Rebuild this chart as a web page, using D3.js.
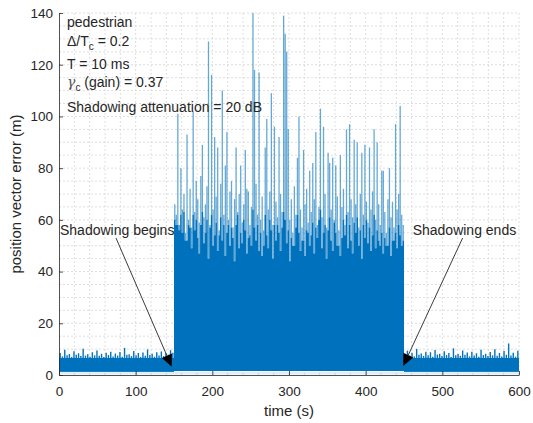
<!DOCTYPE html>
<html lang="en">
<head>
<meta charset="UTF-8" />
<title>Position vector error</title>
<script src="https://d3js.org/d3.v7.min.js"></script>
<style>
  html, body { margin: 0; padding: 0; background: #fff; }
  svg { display: block; font-family: "Liberation Sans", Arial, Helvetica, sans-serif; }
  .axis text { font-size: 13.5px; fill: #262626; }
  .axis path, .axis line { stroke: #262626; stroke-width: 0.8; }
  .grid line { stroke: #d6d6d6; stroke-width: 0.8; stroke-dasharray: 2,2; }
</style>
</head>
<body>
<svg id="chart" width="533" height="423"></svg>
<script>
// ticks
const xTicks = [0, 100, 200, 300, 400, 500, 600];
const yTicks = [0, 20, 40, 60, 80, 100, 120, 140];

// outside shadowing: solid part of the noise band (m)
const baseLevel = 6.6;
// before shadowing: peak of the noise band, one value per 3 s (t = 0..147)
const preStep = 3;
const preShadow = [8.5, 7.2, 9.8, 7.6, 8.1, 7.0, 9.2, 7.8, 8.4, 7.3, 10.2, 7.5, 8.0, 7.1, 8.8, 7.6, 9.5, 7.4, 8.2, 7.0,
  8.6, 7.7, 9.0, 7.2, 8.3, 7.5, 8.9, 7.1, 10.5, 7.8, 8.0, 7.3, 9.3, 7.6, 8.5, 7.0, 8.7, 7.4, 9.9, 7.7,
  8.2, 7.1, 8.8, 7.5, 9.1, 7.3, 8.4, 7.8, 9.6, 8.6];

// after shadowing: one value per 3 s (t = 450..597)
const postShadow = [8.0, 9.4, 7.5, 8.6, 7.2, 10.1, 7.8, 8.3, 7.4, 9.0, 7.6, 8.8, 7.1, 9.7, 7.9, 8.2, 7.3, 9.2, 7.7, 8.5,
  7.0, 10.3, 7.6, 8.1, 7.4, 9.5, 7.8, 8.7, 7.2, 9.0, 7.5, 8.4, 7.1, 9.8, 7.7, 8.2, 7.3, 8.9, 7.6, 10.0,
  7.4, 8.5, 7.2, 9.3, 7.8, 12.2, 7.5, 8.6, 7.1, 9.4];

// during shadowing: peak error in each 2 s bin (t = 150..448)
const shadowStep = 2;
const shadowPeak = [
  66, 62, 101, 58, 80, 64, 70, 55, 93, 60,
  72, 57, 102, 63, 75, 68, 59, 77, 89, 61,
  66, 73, 129, 58, 116, 64, 92, 69, 88, 56,
  74, 110, 62, 81, 94, 60, 71, 75, 57, 68,
  88, 63, 70, 81, 59, 66, 87, 72, 71, 58,
  65, 140, 118, 74, 62, 117, 60, 69, 56, 88,
  99, 64, 71, 109, 58, 96, 67, 61, 92, 70,
  63, 139, 132, 125, 95, 60, 68, 55, 73, 62,
  84, 100, 64, 57, 87, 66, 72, 59, 79, 63,
  82, 68, 94, 58, 65, 103, 61, 96, 70, 57,
  86, 82, 64, 84, 60, 81, 69, 56, 85, 65,
  72, 58, 95, 63, 97, 68, 61, 91, 66, 90,
  57, 70, 86, 62, 89, 67, 59, 88, 64, 71,
  95, 60, 90, 66, 58, 79, 79, 63, 55, 68,
  80, 61, 67, 57, 97, 64, 70, 104, 62, 58];

// during shadowing: top of the dense core in each 2 s bin (t = 150..448)
const shadowCore = [
  60, 58, 58, 56, 62, 55, 63, 52, 52, 58,
  57, 49, 62, 56, 60, 53, 47, 58, 63, 51,
  55, 60, 45, 57, 62, 50, 54, 59, 48, 54,
  61, 52, 58, 46, 55, 58, 50, 57, 53, 44,
  58, 62, 49, 55, 51, 60, 56, 47, 53, 54,
  50, 64, 57, 52, 58, 48, 55, 46, 50, 62,
  54, 49, 60, 56, 45, 58, 52, 58, 55, 48,
  57, 63, 60, 51, 56, 44, 53, 50, 50, 57,
  62, 55, 48, 52, 52, 46, 56, 55, 50, 54,
  59, 47, 57, 53, 60, 64, 49, 55, 58, 45,
  56, 61, 52, 48, 59, 55, 50, 50, 46, 53,
  60, 54, 62, 49, 58, 52, 47, 59, 55, 61,
  50, 56, 45, 58, 53, 60, 51, 57, 48, 54,
  62, 49, 56, 52, 50, 55, 47, 53, 50, 50,
  57, 46, 52, 52, 55, 49, 58, 54, 50, 52];

const shadowStart = 150, shadowEnd = 450;

const W = 533, H = 423;
const margin = { top: 13, right: 14, bottom: 48, left: 59 };
const w = W - margin.left - margin.right;
const h = H - margin.top - margin.bottom;
const blue = "#0072bd";

const svg = d3.select("#chart");
svg.append("rect").attr("width", W).attr("height", H).attr("fill", "#fff");
const g = svg.append("g").attr("transform", `translate(${margin.left},${margin.top})`);

const x = d3.scaleLinear().domain([0, 600]).range([0, w]);
const y = d3.scaleLinear().domain([0, 140]).range([h, 0]);

// minor grid (every 20 s and every 5 m)
const gx = d3.range(20, 601, 20);
const gy = d3.range(5, 141, 5);
const grid = g.append("g").attr("class", "grid");
grid.selectAll(".gx").data(gx).join("line").attr("class", "gx")
  .attr("x1", d => x(d)).attr("x2", d => x(d)).attr("y1", 0).attr("y2", h);
grid.selectAll(".gy").data(gy).join("line").attr("class", "gy")
  .attr("x1", 0).attr("x2", w).attr("y1", d => y(d)).attr("y2", d => y(d));

g.append("clipPath").attr("id", "clip")
  .append("rect").attr("width", w).attr("height", h);
const plot = g.append("g").attr("clip-path", "url(#clip)");

// faint specks near zero
plot.append("rect")
  .attr("x", x(0)).attr("width", x(600) - x(0))
  .attr("y", y(1.3)).attr("height", y(0.2) - y(1.3))
  .attr("fill", blue).attr("opacity", 0.12);

// noise band outside shadowing
[[0, shadowStart], [shadowEnd, 600]].forEach(([a, b]) => {
  plot.append("rect")
    .attr("x", x(a)).attr("width", x(b) - x(a))
    .attr("y", y(baseLevel)).attr("height", y(1.2) - y(baseLevel))
    .attr("fill", blue);
});
const base = preShadow.map((v, i) => ({ t: i * preStep, v }))
  .concat(postShadow.map((v, i) => ({ t: shadowEnd + i * preStep, v })));
plot.selectAll(".base").data(base).join("line").attr("class", "base")
  .attr("x1", d => x(d.t + preStep / 2)).attr("x2", d => x(d.t + preStep / 2))
  .attr("y1", y(baseLevel)).attr("y2", d => y(d.v))
  .attr("stroke", blue).attr("stroke-width", 1.4);

// dense core during shadowing (stepped area, one step per bin)
const core = shadowCore.map((v, i) => ({ t: shadowStart + i * shadowStep, v }));
core.push({ t: shadowEnd, v: shadowCore[shadowCore.length - 1] });
plot.append("path").datum(core)
  .attr("fill", blue)
  .attr("d", d3.area().x(d => x(d.t)).y0(y(1.5)).y1(d => y(d.v)).curve(d3.curveStepAfter));

// spikes during shadowing, from the core up to the peak
const peaks = shadowPeak.map((v, i) => ({ t: shadowStart + i * shadowStep + shadowStep / 2, v, c: shadowCore[i] }));
plot.selectAll(".peak").data(peaks).join("line").attr("class", "peak")
  .attr("x1", d => x(d.t)).attr("x2", d => x(d.t))
  .attr("y1", d => y(d.c)).attr("y2", d => y(d.v))
  .attr("stroke", blue).attr("stroke-width", 1.3).attr("opacity", 0.6);

// axes
const xAxis = d3.axisBottom(x).tickValues(xTicks).tickSizeInner(-4).tickSizeOuter(0).tickPadding(11);
const yAxis = d3.axisLeft(y).tickValues(yTicks).tickSizeInner(-4).tickSizeOuter(0).tickPadding(6);
g.append("g").attr("class", "axis").attr("transform", `translate(0,${h})`).call(xAxis);
g.append("g").attr("class", "axis").call(yAxis);

// axis labels
g.append("text").attr("x", w / 2).attr("y", h + 41)
  .attr("text-anchor", "middle").attr("font-size", 15).attr("fill", "#262626")
  .text("time (s)");
g.append("text").attr("transform", `translate(${21 - margin.left},${h / 2}) rotate(-90)`)
  .attr("text-anchor", "middle").attr("font-size", 15).attr("fill", "#262626")
  .text("position vector error (m)");

// parameter box
const info = g.append("g").attr("font-size", 14).attr("fill", "#262626");
const lx = 8;
info.append("text").attr("x", lx).attr("y", 14.3).text("pedestrian");
const t2 = info.append("text").attr("x", lx).attr("y", 33);
t2.append("tspan").text("\u0394/T");
t2.append("tspan").attr("dy", 4).attr("font-size", 10).text("c");
t2.append("tspan").attr("dy", -4).text(" = 0.2");
info.append("text").attr("x", lx).attr("y", 56).text("T = 10 ms");
const t4 = info.append("text").attr("x", lx).attr("y", 74.3);
t4.append("tspan").attr("font-family", "DejaVu Serif, serif").attr("font-style", "italic").attr("fill", "#555").text("\u03b3");
t4.append("tspan").attr("dy", 4).attr("font-size", 10).text("c");
t4.append("tspan").attr("dy", -4).text(" (gain) = 0.37");
info.append("text").attr("x", lx).attr("y", 98.7).text("Shadowing attenuation = 20 dB");

// annotations with arrows
function arrow(t0, v0, t1, v1) {
  const x0 = x(t0), y0 = y(v0), x1 = x(t1), y1 = y(v1);
  const a = Math.atan2(y1 - y0, x1 - x0);
  const L = 12, Wd = 5.5;
  const bx = x1 - L * Math.cos(a), by = y1 - L * Math.sin(a);
  g.append("line").attr("x1", x0).attr("y1", y0).attr("x2", bx).attr("y2", by)
    .attr("stroke", "#262626").attr("stroke-width", 0.9);
  const pts = [[x1, y1],
    [bx + Wd * Math.sin(a), by - Wd * Math.cos(a)],
    [bx - Wd * Math.sin(a), by + Wd * Math.cos(a)]];
  g.append("polygon").attr("points", pts.map(p => p.join(",")).join(" ")).attr("fill", "#000");
}
arrow(74.3, 53, 147, 3.2);
arrow(526.5, 53, 449, 3.5);

g.append("text").attr("x", x(1.3)).attr("y", y(54.1))
  .attr("font-size", 14).attr("fill", "#262626").text("Shadowing begins");
g.append("text").attr("x", x(461.3)).attr("y", y(54.1))
  .attr("font-size", 14).attr("fill", "#262626").text("Shadowing ends");
</script>
</body>
</html>
